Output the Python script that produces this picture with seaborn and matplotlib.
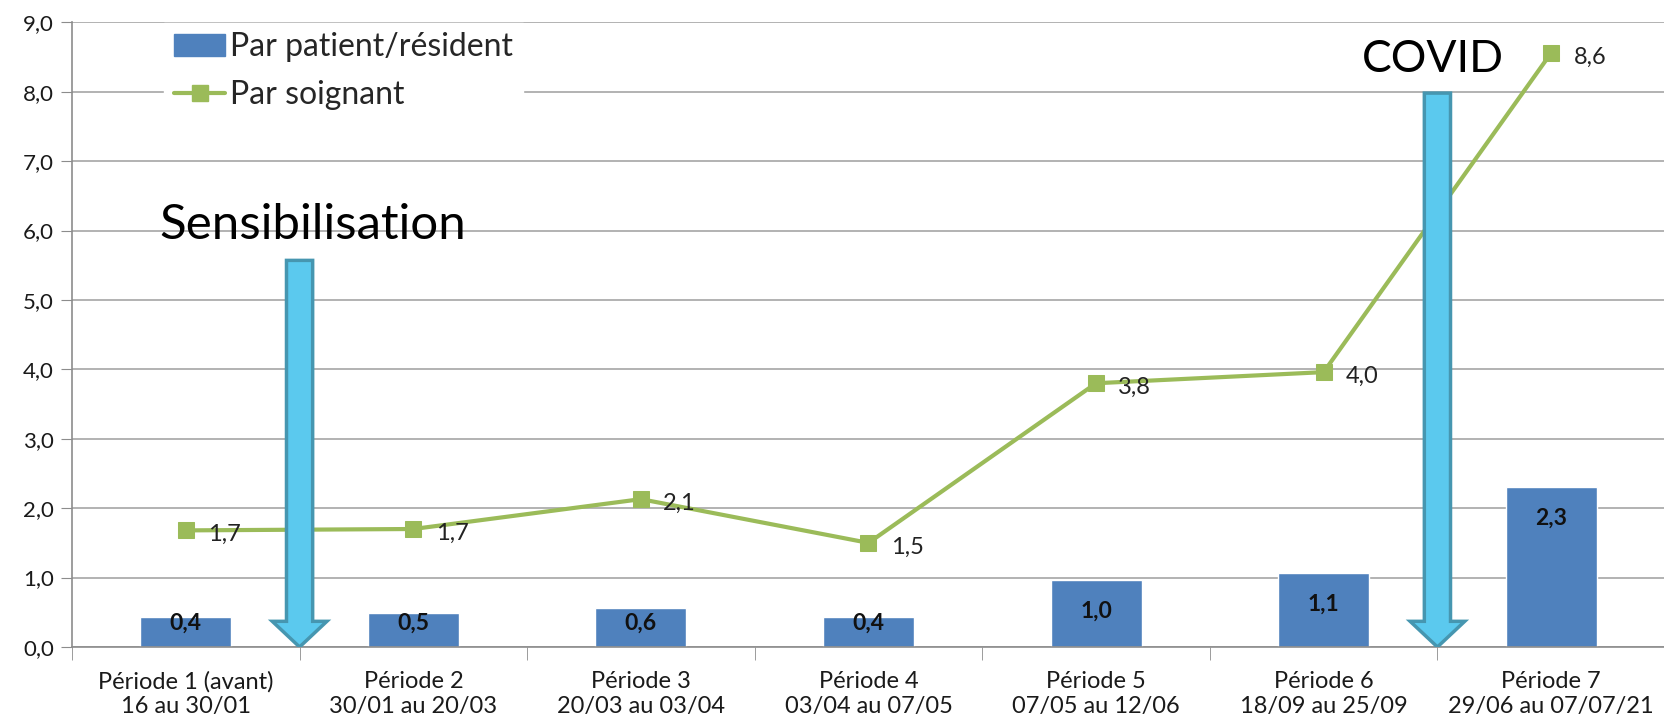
import numpy as np
import pandas as pd
import seaborn as sns
import matplotlib.pyplot as plt
from matplotlib.patches import FancyArrow, Patch
from matplotlib.lines import Line2D
from matplotlib.ticker import FuncFormatter, MultipleLocator

# Données
periodes = ["Période 1 (avant)\n16 au 30/01", "Période 2\n30/01 au 20/03",
            "Période 3\n20/03 au 03/04", "Période 4\n03/04 au 07/05",
            "Période 5\n07/05 au 12/06", "Période 6\n18/09 au 25/09",
            "Période 7\n29/06 au 07/07/21"]
par_patient = [0.43, 0.49, 0.56, 0.43, 0.96, 1.06, 2.31]
par_soignant = [1.68, 1.70, 2.13, 1.50, 3.80, 3.96, 8.56]

# annotations (flèches)
fleches = [("Sensibilisation", 0.5, 5.57, 0.56, 6.08, 35.5),
           ("COVID", 5.5, 7.98, 5.48, 8.47, 32)]

BLEU = "#4F81BD"
VERT = "#9BBB59"
FLECHE = "#5BC9EE"
FLECHE_BORD = "#4696B0"

sns.set_style("white")
plt.rcParams["font.family"] = ["Lato", "DejaVu Sans"]

df = pd.DataFrame({"periode": periodes, "patient": par_patient, "soignant": par_soignant})
df["pos"] = np.arange(len(df))

fig = plt.figure(figsize=(16.65, 7.26), dpi=100)
ax = fig.add_axes([72 / 1665, 1 - 647 / 726, 1 - 72 / 1665, (647 - 22.3) / 726])

sns.barplot(data=df, x="periode", y="patient", color=BLEU, width=0.4,
            saturation=1, ax=ax, zorder=2)
sns.lineplot(data=df, x="pos", y="soignant", color=VERT, linewidth=3,
             marker="s", markersize=12, markeredgecolor=VERT, ax=ax, zorder=3)

ax.set_xlim(-0.5, 6.456)
ax.set_ylim(0, 9)
ax.set_xlabel("")
ax.set_ylabel("")

# grille et axes
ax.yaxis.set_major_locator(MultipleLocator(1))
ax.yaxis.set_major_formatter(FuncFormatter(lambda v, p: f"{v:.1f}".replace(".", ",")))
ax.grid(axis="y", color="#A6A6A6", linewidth=1.2, zorder=0)
ax.set_axisbelow(True)
for s in ["top", "right"]:
    ax.spines[s].set_visible(False)
for s in ["left", "bottom"]:
    ax.spines[s].set_color("#8C8C8C")
    ax.spines[s].set_linewidth(1.2)
ax.tick_params(axis="y", length=8, color="#8C8C8C", labelsize=16, pad=5,
               left=True, labelcolor="#1a1a1a")
ax.set_xticks(df["pos"])
ax.set_xticklabels(periodes, fontsize=17, color="#1a1a1a", linespacing=1.25)
ax.set_xticks(np.arange(-0.5, 7, 1), minor=True)
ax.tick_params(axis="x", which="major", length=0, pad=17)
ax.tick_params(axis="x", which="minor", length=9, color="#8C8C8C", bottom=True)

# étiquettes des barres
for i, v in enumerate(par_patient):
    ax.text(i, max(v - 0.45, 0.35), f"{v:.1f}".replace(".", ","), ha="center",
            va="center", fontsize=16.5, fontweight="bold", color="#111111", zorder=4)

# étiquettes de la ligne
for i, v in enumerate(par_soignant):
    ax.annotate(f"{v:.1f}".replace(".", ","), (i, v), xytext=(16, -3),
                textcoords="offset points", ha="left", va="center",
                fontsize=17, color="#222222", zorder=4)

# flèches et textes
for txt, x, y, tx, ty, fs in fleches:
    ax.add_patch(FancyArrow(x, y, 0, -y, width=0.115, head_width=0.24,
                            head_length=0.37, length_includes_head=True,
                            facecolor=FLECHE, edgecolor=FLECHE_BORD,
                            linewidth=2.5, zorder=5))
    ax.text(tx, ty, txt, ha="center", va="center", fontsize=fs,
            color="black", zorder=6)

# légende
handles = [Patch(facecolor=BLEU, edgecolor=BLEU),
           Line2D([0], [0], color=VERT, linewidth=3, marker="s",
                  markersize=12, markeredgecolor=VERT)]
leg = ax.legend(handles, ["Par patient/résident", "Par soignant"],
                loc="upper left", bbox_to_anchor=(0.048, 1.025), fontsize=23,
                frameon=True, facecolor="white", edgecolor="white",
                framealpha=1, fancybox=False, handlelength=1.6,
                handletextpad=0.15, labelspacing=0.55, borderpad=0.3)
leg.set_zorder(7)

fig.savefig("out.png", dpi=100)
